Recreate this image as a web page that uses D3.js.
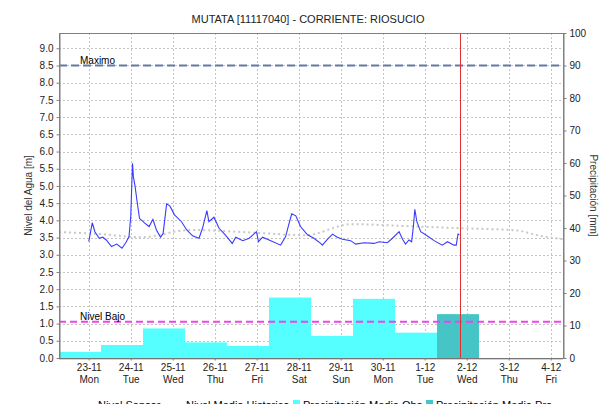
<!DOCTYPE html>
<html>
<head>
<meta charset="utf-8">
<script src="https://cdn.jsdelivr.net/npm/d3@7"></script>
<style>
body { margin: 0; background: #fff; }
text { font-family: "Liberation Sans", Arial, sans-serif; }
</style>
</head>
<body>
<script>
var width = 615,
    height = 404;

var title = "MUTATA [11117040] - CORRIENTE: RIOSUCIO";

// dias del eje x
var dayTicks = ["2020-11-23","2020-11-24","2020-11-25","2020-11-26","2020-11-27","2020-11-28",
                "2020-11-29","2020-11-30","2020-12-01","2020-12-02","2020-12-03","2020-12-04"];
var dayNames = ["Mon","Tue","Wed","Thu","Fri","Sat","Sun","Mon","Tue","Wed","Thu","Fri"];

// precipitacion diaria (7:00 a 7:00)
var precipObsDays = ["2020-11-22","2020-11-23","2020-11-24","2020-11-25","2020-11-26",
                     "2020-11-27","2020-11-28","2020-11-29","2020-11-30"];
var precipObs = [1.9, 4.0, 9.1, 4.8, 3.7, 18.6, 6.8, 18.2, 7.8];
var precipProDays = ["2020-12-01"];
var precipPro = [13.5];

var nivelMaximo = 8.5,
    nivelBajo = 1.05;
var ahora = "2020-12-01 20:00";

var sensor = [
  ["2020-11-23 00:00",3.38],["2020-11-23 02:00",3.93],["2020-11-23 03:30",3.67],["2020-11-23 06:00",3.48],
  ["2020-11-23 08:00",3.51],["2020-11-23 10:00",3.43],["2020-11-23 13:00",3.24],["2020-11-23 16:00",3.31],
  ["2020-11-23 19:00",3.19],["2020-11-23 21:30",3.38],["2020-11-23 23:00",3.53],["2020-11-24 00:00",4.11],
  ["2020-11-24 01:00",5.66],["2020-11-24 01:30",5.27],["2020-11-24 02:30",4.98],["2020-11-24 03:30",4.59],
  ["2020-11-24 05:00",4.06],["2020-11-24 08:00",3.92],["2020-11-24 10:30",3.82],["2020-11-24 12:40",4.03],
  ["2020-11-24 14:40",3.72],["2020-11-24 17:00",3.51],["2020-11-24 18:30",3.62],["2020-11-24 20:30",4.48],
  ["2020-11-24 22:20",4.42],["2020-11-25 01:00",4.16],["2020-11-25 05:00",3.96],["2020-11-25 08:00",3.72],
  ["2020-11-25 11:20",3.55],["2020-11-25 15:00",3.48],["2020-11-25 17:00",3.77],["2020-11-25 19:30",4.28],
  ["2020-11-25 20:40",3.96],["2020-11-25 23:30",4.09],["2020-11-26 02:30",3.77],["2020-11-26 06:00",3.58],
  ["2020-11-26 10:00",3.33],["2020-11-26 12:00",3.51],["2020-11-26 16:00",3.41],["2020-11-26 19:40",3.48],
  ["2020-11-26 23:50",3.67],["2020-11-27 01:00",3.38],["2020-11-27 03:20",3.51],["2020-11-27 08:00",3.41],
  ["2020-11-27 13:40",3.28],["2020-11-27 16:30",3.53],["2020-11-27 18:30",3.92],["2020-11-27 20:00",4.19],
  ["2020-11-27 22:20",4.13],["2020-11-28 01:00",3.82],["2020-11-28 05:00",3.58],["2020-11-28 08:40",3.48],
  ["2020-11-28 12:30",3.33],["2020-11-28 13:30",3.28],["2020-11-28 16:20",3.45],["2020-11-28 19:20",3.60],
  ["2020-11-28 22:00",3.51],["2020-11-29 01:00",3.45],["2020-11-29 05:40",3.41],["2020-11-29 08:30",3.31],
  ["2020-11-29 13:20",3.35],["2020-11-29 19:00",3.33],["2020-11-29 22:00",3.38],["2020-11-30 02:40",3.35],
  ["2020-11-30 05:30",3.48],["2020-11-30 09:20",3.67],["2020-11-30 11:20",3.45],["2020-11-30 13:00",3.31],
  ["2020-11-30 15:00",3.43],["2020-11-30 16:30",3.38],["2020-11-30 17:30",3.82],["2020-11-30 18:20",4.32],
  ["2020-11-30 19:30",3.96],["2020-11-30 21:40",3.67],["2020-12-01 00:30",3.58],["2020-12-01 05:20",3.41],
  ["2020-12-01 10:00",3.28],["2020-12-01 13:00",3.38],["2020-12-01 16:40",3.28],["2020-12-01 18:00",3.28],
  ["2020-12-01 19:00",3.60],["2020-12-01 19:50",3.58]
];

var historico = [
  ["2020-11-22 07:00",3.66],["2020-11-23 07:00",3.60],["2020-11-24 06:00",3.51],["2020-11-25 10:00",3.72],
  ["2020-11-26 20:00",3.65],["2020-11-28 04:00",3.57],["2020-11-29 06:00",3.89],["2020-11-30 10:00",3.84],
  ["2020-12-01 21:00",3.77],["2020-12-03 04:00",3.71],["2020-12-03 18:00",3.55],["2020-12-04 07:00",3.45]
];

var parseDay = d3.timeParse("%Y-%m-%d"),
    parseTime = d3.timeParse("%Y-%m-%d %H:%M");

var pLeft = 59, pRight = 563, pTop = 33, pBottom = 358;

var svg = d3.select("body").append("svg")
    .attr("width", width)
    .attr("height", height);

var x = d3.scaleTime()
    .domain([parseTime("2020-11-22 07:00"), parseTime("2020-12-04 07:00")])
    .range([pLeft, pRight]);

var y = d3.scaleLinear()
    .domain([0, nivelMaximo / 0.9])
    .range([pBottom, pTop]);

var yp = d3.scaleLinear()
    .domain([0, 100])
    .range([pBottom, pTop]);

var ticks = dayTicks.map(parseDay);
var yTicks = d3.range(0, 9.01, 0.5);

// rejilla
svg.append("g").selectAll("line")
    .data(yTicks.slice(1))
  .enter().append("line")
    .attr("x1", pLeft).attr("x2", pRight)
    .attr("y1", function(d) { return Math.round(y(d)) + 0.5; })
    .attr("y2", function(d) { return Math.round(y(d)) + 0.5; })
    .style("stroke", "#c4c4c4")
    .style("stroke-dasharray", "2,2");

svg.append("g").selectAll("line")
    .data(ticks)
  .enter().append("line")
    .attr("x1", function(d) { return Math.round(x(d)) + 0.5; })
    .attr("x2", function(d) { return Math.round(x(d)) + 0.5; })
    .attr("y1", pTop).attr("y2", pBottom)
    .style("stroke", "#c4c4c4")
    .style("stroke-dasharray", "2,2");

// barras de precipitacion
function bars(days, vals, color) {
  svg.append("g").selectAll("rect")
      .data(vals)
    .enter().append("rect")
      .attr("x", function(d, i) { return x(d3.timeHour.offset(parseDay(days[i]), 7)); })
      .attr("width", function(d, i) {
        var t0 = d3.timeHour.offset(parseDay(days[i]), 7);
        return x(d3.timeDay.offset(t0, 1)) - x(t0);
      })
      .attr("y", function(d) { return yp(d); })
      .attr("height", function(d) { return pBottom - yp(d); })
      .style("fill", color);
}
bars(precipObsDays, precipObs, "#55ffff");
bars(precipProDays, precipPro, "#45c5c5");

// niveles de referencia
svg.append("line")
    .attr("x1", pLeft).attr("x2", pRight)
    .attr("y1", y(nivelMaximo)).attr("y2", y(nivelMaximo))
    .style("stroke", "#6478a6")
    .style("stroke-width", 2)
    .style("stroke-dasharray", "8,4");
svg.append("text")
    .attr("x", 80).attr("y", y(nivelMaximo) - 2)
    .style("font-size", "10px")
    .text("Maximo");

svg.append("line")
    .attr("x1", pLeft).attr("x2", pRight)
    .attr("y1", y(nivelBajo)).attr("y2", y(nivelBajo))
    .style("stroke", "#ee44ee")
    .style("stroke-width", 2)
    .style("stroke-dasharray", "7,4");
svg.append("text")
    .attr("x", 80).attr("y", y(nivelBajo) - 2)
    .style("font-size", "10px")
    .text("Nivel Bajo");

// nivel medio historico
var line = d3.line()
    .x(function(d) { return x(parseTime(d[0])); })
    .y(function(d) { return y(d[1]); })
    .curve(d3.curveMonotoneX);

svg.append("path")
    .datum(historico)
    .attr("d", line)
    .style("fill", "none")
    .style("stroke", "#c8c8c8")
    .style("stroke-width", 2)
    .style("stroke-dasharray", "2,3");

// nivel sensor
svg.append("path")
    .datum(sensor)
    .attr("d", d3.line()
      .x(function(d) { return x(parseTime(d[0])); })
      .y(function(d) { return y(d[1]); }))
    .style("fill", "none")
    .style("stroke", "#3a3aff")
    .style("stroke-width", 1.1);

// hora actual
svg.append("line")
    .attr("x1", Math.round(x(parseTime(ahora))) + 0.5)
    .attr("x2", Math.round(x(parseTime(ahora))) + 0.5)
    .attr("y1", pTop).attr("y2", pBottom)
    .style("stroke", "#e03030");

// marco y ejes
svg.append("rect")
    .attr("x", pLeft + 0.5).attr("y", pTop + 0.5)
    .attr("width", pRight - pLeft).attr("height", pBottom - pTop)
    .style("fill", "none")
    .style("stroke", "#808080");

var yAxis = svg.append("g")
    .attr("transform", "translate(" + (pLeft + 0.5) + ",0)")
    .call(d3.axisLeft(y).tickValues(yTicks).tickFormat(d3.format(".1f")).tickSize(3).tickSizeOuter(0));

var ypAxis = svg.append("g")
    .attr("transform", "translate(" + (pRight + 0.5) + ",0)")
    .call(d3.axisRight(yp).tickValues(d3.range(0, 101, 10)).tickSize(3).tickSizeOuter(0));

var xAxis = svg.append("g")
    .attr("transform", "translate(0," + (pBottom + 0.5) + ")")
    .call(d3.axisBottom(x).tickValues(ticks).tickFormat(d3.timeFormat("%-d-%m")).tickSize(2).tickSizeOuter(0));

xAxis.selectAll(".tick text")
    .attr("y", 5)
    .each(function(d, i) {
      d3.select(this).append("tspan")
          .attr("x", 0).attr("dy", "1.2em")
          .text(dayNames[i]);
    });

[yAxis, ypAxis, xAxis].forEach(function(a) {
  a.select(".domain").style("stroke", "#808080");
  a.selectAll(".tick line").style("stroke", "#808080");
  a.selectAll("text").style("font-size", "10px").style("fill", "#222")
      .style("font-family", "'Liberation Sans', Arial, sans-serif");
});
xAxis.select(".domain").style("stroke", "#555").style("stroke-dasharray", "1,1");

// titulos
svg.append("text")
    .attr("x", 308).attr("y", 23)
    .attr("text-anchor", "middle")
    .style("font-size", "11px")
    .style("fill", "#222")
    .text(title);

svg.append("text")
    .attr("transform", "translate(32," + ((pTop + pBottom) / 2) + ") rotate(-90)")
    .attr("text-anchor", "middle")
    .style("font-size", "10px")
    .style("fill", "#333")
    .text("Nivel del Agua [m]");

svg.append("text")
    .attr("transform", "translate(590," + ((pTop + pBottom) / 2) + ") rotate(90)")
    .attr("text-anchor", "middle")
    .style("font-size", "10px")
    .style("fill", "#333")
    .text("Precipitación [mm]");

// leyenda
var legend = svg.append("g").attr("transform", "translate(0,409)");
legend.append("line").attr("x1", 80).attr("x2", 95).attr("y1", -3).attr("y2", -3)
    .style("stroke", "#3a3aff");
legend.append("text").attr("x", 98).attr("y", 0).style("font-size", "11px").text("Nivel Sensor");
legend.append("line").attr("x1", 166).attr("x2", 183).attr("y1", -3).attr("y2", -3)
    .style("stroke", "#b0b0b0").style("stroke-dasharray", "3,3");
legend.append("text").attr("x", 186).attr("y", 0).style("font-size", "11px").text("Nivel Medio Historico");
legend.append("rect").attr("x", 293).attr("y", -9).attr("width", 7).attr("height", 7).style("fill", "#55ffff");
legend.append("text").attr("x", 303).attr("y", 0).style("font-size", "11px").text("Precipitación Medio Obs");
legend.append("rect").attr("x", 426).attr("y", -9).attr("width", 7).attr("height", 7).style("fill", "#45c5c5");
legend.append("text").attr("x", 436).attr("y", 0).style("font-size", "11px").text("Precipitación Medio Pro");
</script>
</body>
</html>
